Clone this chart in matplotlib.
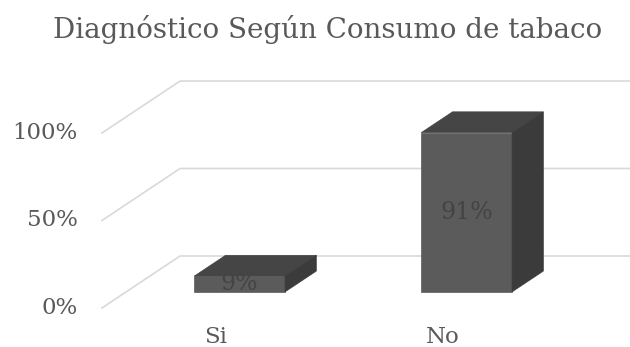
import matplotlib
matplotlib.use("Agg")
import matplotlib.pyplot as plt
from matplotlib.patches import Polygon

categorias = ["Si", "No"]
porcentajes = [9, 91]
ticks_y = [0, 50, 100]
etiquetas_y = ["0%", "50%", "100%"]
titulo = "Diagnóstico Según Consumo de tabaco"

plt.rcParams['font.family'] = ['DejaVu Serif', 'Liberation Serif']

# proyeccion oblicua: desplazamiento de toda la profundidad (en categorias, en %)
DX, DY = 0.344, 29.7
ANCHO = 0.40
Z0, Z1 = 0.31, 0.71   # la barra ocupa esta franja de profundidad


def proy(x, v, z):
    return x + z * DX, v + z * DY


fig = plt.figure(figsize=(6.3, 3.47), dpi=100)
ax = fig.add_axes([0, 0, 1, 1])
ax.set_xlim(-0.949, 1.826)
ax.set_ylim(-22.3, 176.0)
ax.axis('off')

# lineas de division: lado izquierdo inclinado y pared del fondo
izq, der = -0.5, len(categorias) - 0.5
for t, lab in zip(ticks_y, etiquetas_y):
    pts = [proy(izq, t, 0), proy(izq, t, 1), proy(der, t, 1)]
    ax.plot([p[0] for p in pts], [p[1] for p in pts], color='#d9d9d9', lw=1.2, zorder=1)
    x, y = proy(izq, t, 0)
    ax.text(x - 0.106, y, lab, ha='right', va='center', fontsize=16.5, color='#595959')

for i, (cat, v) in enumerate(zip(categorias, porcentajes)):
    x0, x1 = i - ANCHO / 2, i + ANCHO / 2
    frente = [proy(x0, 0, Z0), proy(x1, 0, Z0), proy(x1, v, Z0), proy(x0, v, Z0)]
    arriba = [proy(x0, v, Z0), proy(x1, v, Z0), proy(x1, v, Z1), proy(x0, v, Z1)]
    lado = [proy(x1, 0, Z0), proy(x1, 0, Z1), proy(x1, v, Z1), proy(x1, v, Z0)]
    ax.add_patch(Polygon(frente, closed=True, fc='#5b5b5b', ec='#5b5b5b', lw=0.5, zorder=3))
    ax.add_patch(Polygon(arriba, closed=True, fc='#454545', ec='#454545', lw=0.5, zorder=3))
    ax.add_patch(Polygon(lado, closed=True, fc='#3b3b3b', ec='#3b3b3b', lw=0.5, zorder=3))
    lx, ly = proy(i, v / 2, Z0)
    ax.text(lx, ly, f"{v}%", ha='center', va='center', fontsize=17, color='#444444', zorder=4)
    ax.text(i, -19.8, cat, ha='center', va='baseline', fontsize=16.5, color='#595959')

fig.text(0.52, 0.89, titulo, ha='center', va='baseline', fontsize=20, color='#595959')

fig.savefig('out.png', dpi=100)
